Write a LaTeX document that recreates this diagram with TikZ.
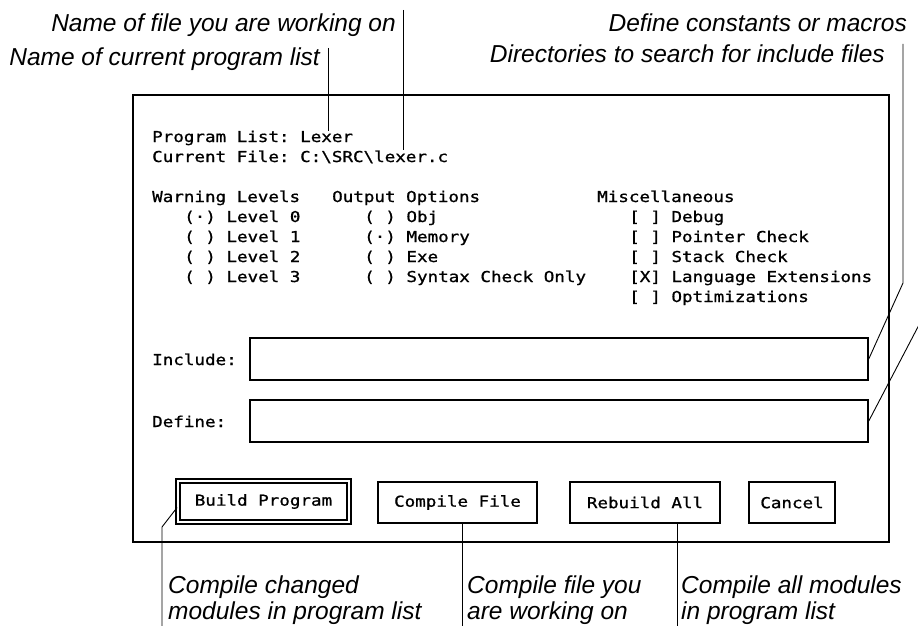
\documentclass[tikz,border=0pt]{standalone}
\usepackage{fontspec}
\newfontfamily\lblfont{Liberation Sans}
\newfontfamily\scrfont[FakeStretch=1.17,FakeBold=1]{DejaVu Sans Mono}
\usetikzlibrary{positioning}

\begin{document}
\begin{tikzpicture}[
  x=1pt, y=-1pt,
  note/.style={font=\lblfont\itshape\fontsize{24.5}{26}\selectfont, inner sep=0pt, align=left},
  scr/.style={font=\scrfont\fontsize{15}{20}\selectfont, inner sep=0pt, anchor=base west},
  dlgbox/.style={draw, line width=2pt, minimum width=756pt, minimum height=447pt},
  field/.style={draw, line width=1.5pt, minimum width=618pt, minimum height=42pt},
  btn/.style={draw, line width=1.5pt, minimum height=41pt, font=\scrfont\fontsize{15}{16}\selectfont},
  lead/.style={line width=0.9pt}
]
  \useasboundingbox (0,0) rectangle (918,626);

  % Dialog frame
  \node[dlgbox] (dlg) at (511,318.5) {};

  % Program list and current file
  \node[scr] (plabel) at (152,142) {Program List:};
  \node[scr] (pval)   at (300,142) {Lexer};
  \node[scr] (flabel) at (152,162) {Current File:};
  \node[scr] (fval)   at (300,162) {C:\textbackslash SRC\textbackslash lexer.c};

  % Warning levels
  \node[scr] (warn) at (152,202) {Warning Levels};
  \node[scr] (lv0)  at (184,222) {(·) Level 0};
  \node[scr] (lv1)  at (184,242) {( ) Level 1};
  \node[scr] (lv2)  at (184,262) {( ) Level 2};
  \node[scr] (lv3)  at (184,282) {( ) Level 3};

  % Output options
  \node[scr] (outopt) at (332,202) {Output Options};
  \node[scr] (oobj)   at (364,222) {( ) Obj};
  \node[scr] (omem)   at (364,242) {(·) Memory};
  \node[scr] (oexe)   at (364,262) {( ) Exe};
  \node[scr] (osyn)   at (364,282) {( ) Syntax Check Only};

  % Miscellaneous
  \node[scr] (misc)  at (597,202) {Miscellaneous};
  \node[scr] (mdbg)  at (629,222) {[ ] Debug};
  \node[scr] (mptr)  at (629,242) {[ ] Pointer Check};
  \node[scr] (mstk)  at (629,262) {[ ] Stack Check};
  \node[scr] (mlang) at (629,282) {[X] Language Extensions};
  \node[scr] (mopt)  at (629,302) {[ ] Optimizations};

  % Text fields
  \node[scr] (inclabel) at (152,365) {Include:};
  \node[field] (incbox) at (559,359) {};
  \node[scr] (deflabel) at (152,427) {Define:};
  \node[field] (defbox) at (559,421) {};

  % Buttons
  \node[btn, minimum width=171pt, double, double distance=2pt, line width=1.8pt] (bbuild) at (263.5,501.5) {Build Program};
  \node[btn, minimum width=159pt] (cfile) at (457.5,502.5) {Compile File};
  \node[btn, minimum width=150pt] (rball) at (645,502.5) {Rebuild All};
  \node[btn, minimum width=86pt]  (cancel) at (792,502.5) {Cancel};

  % Top labels
  \node[note, anchor=base east] (nfile) at (396,32) {Name of file you are working on};
  \node[note, anchor=base east] (nlist) at (320,66) {Name of current program list};
  \node[note, anchor=base east] (ndef)  at (907,32) {Define constants or macros};
  \node[note, anchor=base east] (ninc)  at (885,63) {Directories to search for include files};

  % Bottom labels
  \node[note, anchor=base west] (nbuild) at (168,619) {Compile changed\\modules in program list};
  \node[note, anchor=base west] (ncomp)  at (467,619) {Compile file you\\are working on};
  \node[note, anchor=base west] (nreb)   at (681,619) {Compile all modules\\in program list};

  % Leader ends
  \coordinate (listtop) at (328,48);
  \coordinate (filetop) at (403,10);
  \coordinate (inctop)  at (903,44);
  \coordinate (incbend) at (903,283);
  \coordinate (deftop)  at (932,10);
  \coordinate (defbend) at (932,300);
  \coordinate (bbend)   at (162,527);
  \coordinate (bbot)    at (162,630);
  \coordinate (cbot)    at (462,630);
  \coordinate (rbot)    at (677,630);

  % Leaders
  \draw[lead] (listtop) -- (listtop |- pval.north);
  \draw[lead] (filetop) -- (filetop |- fval.north);
  \draw[lead] (inctop) -- (incbend) -- (incbox.east);
  \draw[lead] (deftop) -- (defbend) -- (defbox.east);
  \draw[lead] ([yshift=-6pt]bbuild.west) -- (bbend) -- (bbot);
  \draw[lead] (cbot |- cfile.south) -- (cbot);
  \draw[lead] (rbot |- rball.south) -- (rbot);
\end{tikzpicture}
\end{document}
